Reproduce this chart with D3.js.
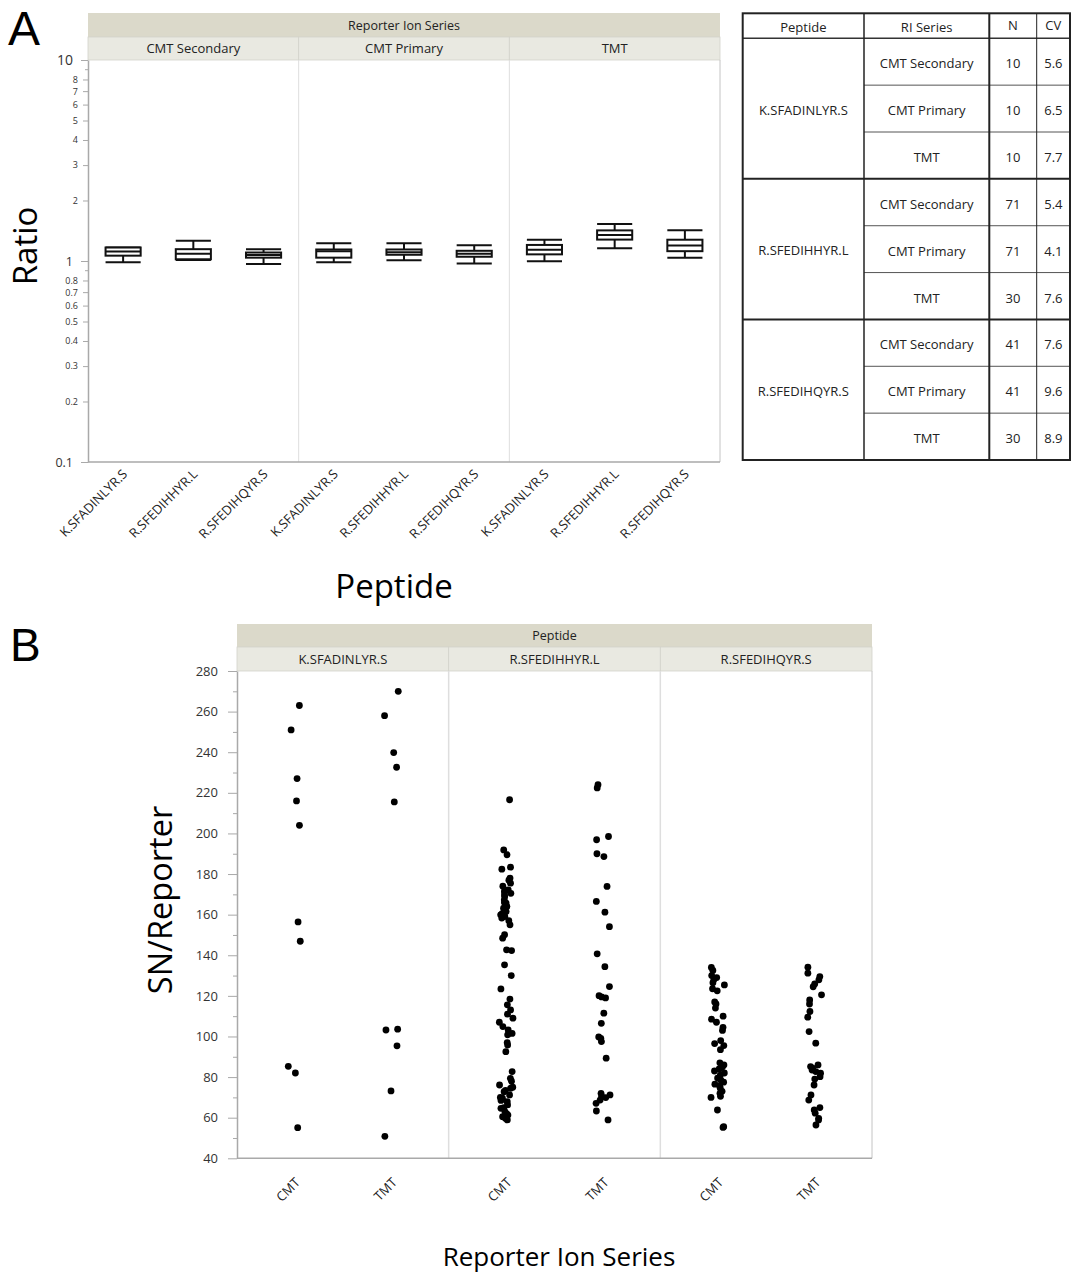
<!DOCTYPE html>
<html>
<head>
<meta charset="utf-8">
<script src="https://cdn.jsdelivr.net/npm/d3@7"></script>
<style>
    body { margin: 0; background: #fff; }
    svg { display: block; font-family: "Open Sans", sans-serif; }
</style>
</head>
<body>
<div id="chart"></div>
<script>
// ---- data ----
const riSeries = ["CMT Secondary", "CMT Primary", "TMT"];
const peptides = ["K.SFADINLYR.S", "R.SFEDIHHYR.L", "R.SFEDIHQYR.S"];

// box stats (ratio), ordered RI series first, then peptide
const boxLow    = [0.985, 1.012, 0.967, 0.985, 1.008, 0.971, 0.998, 1.158, 1.039];
const boxQ1     = [1.063, 1.020, 1.039, 1.039, 1.074, 1.050, 1.079, 1.278, 1.119];
const boxMedian = [1.115, 1.086, 1.070, 1.119, 1.107, 1.086, 1.137, 1.347, 1.193];
const boxQ3     = [1.167, 1.145, 1.102, 1.141, 1.141, 1.124, 1.202, 1.420, 1.276];
const boxHigh   = [1.167, 1.262, 1.145, 1.225, 1.225, 1.197, 1.276, 1.530, 1.423];

// log axis ticks
const ratioBigTicks = [0.1, 1, 10];
const ratioSmallTicks = [0.2, 0.3, 0.4, 0.5, 0.6, 0.7, 0.8, 2, 3, 4, 5, 6, 7, 8];
const ratioBlankTicks = [0.9, 9];

// summary table
const tableN  = [10, 10, 10, 71, 71, 30, 41, 41, 30];
const tableCV = ["5.6", "6.5", "7.7", "5.4", "4.1", "7.6", "7.6", "9.6", "8.9"];

// SN / reporter points
const snSeries = ["CMT", "TMT"];
const snKCmt = [263, 251, 227, 216, 204, 156.4, 146.9, 85.3, 82, 55.1];
const snKTmt = [270, 258, 239.8, 232.6, 215.5, 103.6, 103.2, 95.4, 73.2, 50.8];
const snHCmt = [216.6, 191.9, 189.5, 183.4, 182.4, 178, 177, 175.5, 174, 172.2, 171.4, 170.5, 169.8,
    168.9, 167.3, 166, 165.7, 164, 163.2, 162, 161.5, 160.5, 159.9, 159.1, 158.3, 157, 155, 150.1,
    148.4, 142.7, 142.3, 135.3, 130, 123.4, 118.4, 115.6, 113.1, 111, 109, 107, 104.9, 103.2,
    101.5, 100.8, 97, 95.8, 92.5, 82.7, 79.4, 78, 76.1, 75, 74.5, 73.5, 72.8, 71.2, 70, 69.6,
    68.5, 67.9, 66.3, 65, 64.6, 63, 62, 61.3, 60.5, 59.7, 58.9];
const snHTmt = [224, 222.4, 198.5, 196.9, 190, 188.6, 173.9, 166.5, 161.2, 154.1, 140.7, 134.4,
    124.6, 120.1, 119.5, 119, 111.5, 106.5, 99.8, 99.1, 97.5, 89.3, 72, 71.2, 70.5, 69.9, 68.7,
    67.1, 63.3, 58.9];
const snQCmt = [134, 132.5, 130, 129, 128, 126.5, 125.4, 123.5, 122.5, 117, 116, 114, 110, 108.5,
    107, 104.5, 103, 98, 96.5, 95.5, 93.5, 87, 86, 85, 84, 83, 82, 81, 79.5, 78.5, 77.5, 76.5,
    75.5, 74.5, 73, 72, 70.5, 70, 63.8, 55.6, 55.2];
const snQTmt = [134.1, 131.2, 129.5, 127.9, 125.9, 124.5, 120.5, 118, 116, 112.3, 109.5, 102.4,
    96.7, 86, 85.2, 84.4, 83.5, 82.7, 81.9, 80.2, 79, 76.1, 71.2, 68.7, 65, 63.8, 62.2, 59.7,
    58.9, 56.4];
const snTicks = [40, 60, 80, 100, 120, 140, 160, 180, 200, 220, 240, 260, 280];
const snMinorTicks = [50, 70, 90, 110, 130, 150, 170, 190, 210, 230, 250, 270];

const snValues = [[snKCmt, snKTmt], [snHCmt, snHTmt], [snQCmt, snQTmt]];

// ---- drawing ----
const W = 1071, H = 1273;
const stripDark = "#dbd9ca", stripLight = "#e9e9e1";
const frameGrey = "#a9a9a9", dividerGrey = "#dedede";

const svg = d3.select("#chart").append("svg")
    .attr("width", W)
    .attr("height", H);

// panel letters
svg.append("text").attr("x", 8).attr("y", 45)
    .attr("font-family", "Liberation Sans, sans-serif").attr("font-size", 48).text("A");
svg.append("text").attr("x", 10).attr("y", 661)
    .attr("font-family", "Liberation Sans, sans-serif").attr("font-size", 46).text("B");

// draws the grey facet strips on top of a plot
function drawStrips(g, title, facets, scale, left, right, top, mid, bottom) {
    g.append("rect")
        .attr("x", left).attr("y", top)
        .attr("width", right - left).attr("height", mid - top)
        .attr("fill", stripDark);
    g.append("text")
        .attr("x", (left + right) / 2).attr("y", mid - 7)
        .attr("text-anchor", "middle")
        .attr("font-size", 12.5)
        .attr("fill", "#222")
        .text(title);

    facets.forEach(f => {
        g.append("rect")
            .attr("x", scale(f)).attr("y", mid)
            .attr("width", scale.bandwidth()).attr("height", bottom - mid)
            .attr("fill", stripLight)
            .attr("stroke", "#d2d2ca")
            .attr("stroke-width", 0.8);
        g.append("text")
            .attr("x", scale(f) + scale.bandwidth() / 2).attr("y", bottom - 7)
            .attr("text-anchor", "middle")
            .attr("font-size", 13)
            .attr("fill", "#222")
            .text(f);
    });
}

// ---------- panel A: box plots ----------
const A = {left: 88, right: 720, top: 60, bottom: 462, stripTop: 13, stripMid: 37};

const xFacetA = d3.scaleBand().domain(riSeries).range([A.left, A.right]);
const xPepA = d3.scaleBand().domain(peptides).range([0, xFacetA.bandwidth()]);
const yA = d3.scaleLog().domain([0.1, 10]).range([A.bottom, A.top]);

const gA = svg.append("g");

drawStrips(gA, "Reporter Ion Series", riSeries, xFacetA, A.left, A.right, A.stripTop, A.stripMid, A.top);

// facet dividers and frame
riSeries.slice(1).forEach(s => {
    gA.append("line")
        .attr("x1", xFacetA(s)).attr("x2", xFacetA(s))
        .attr("y1", A.top).attr("y2", A.bottom)
        .attr("stroke", dividerGrey);
});
gA.append("line")
    .attr("x1", A.right).attr("x2", A.right)
    .attr("y1", A.top).attr("y2", A.bottom)
    .attr("stroke", "#c4c4c4");
gA.append("line")
    .attr("x1", A.left).attr("x2", A.right)
    .attr("y1", A.bottom).attr("y2", A.bottom)
    .attr("stroke", frameGrey).attr("stroke-width", 1.5);

// y axis (log)
const allRatioTicks = ratioBigTicks.concat(ratioSmallTicks, ratioBlankTicks);
const yAxisA = gA.append("g")
    .attr("transform", "translate(" + A.left + ",0)")
    .call(d3.axisLeft(yA)
        .tickValues(allRatioTicks)
        .tickFormat(d => ratioBlankTicks.includes(d) ? "" : d3.format("~g")(d))
        .tickSizeOuter(0));
yAxisA.select(".domain").attr("stroke", frameGrey).attr("stroke-width", 1.5);
yAxisA.selectAll(".tick line")
    .attr("stroke", frameGrey)
    .attr("x2", d => ratioBigTicks.includes(d) ? -7 : (ratioBlankTicks.includes(d) ? -3 : -5));
yAxisA.selectAll(".tick text")
    .attr("font-family", "Open Sans, sans-serif")
    .attr("fill", "#333")
    .attr("x", d => ratioBigTicks.includes(d) ? -15 : -10)
    .attr("font-size", d => d === 10 ? 14 : (ratioBigTicks.includes(d) ? 12.5 : 9));

// boxes
const boxData = [];
riSeries.forEach((s, i) => {
    peptides.forEach((p, j) => {
        let k = i * peptides.length + j;
        boxData.push({series: s, peptide: p, lo: boxLow[k], q1: boxQ1[k],
            med: boxMedian[k], q3: boxQ3[k], hi: boxHigh[k]});
    });
});

const boxW = xPepA.bandwidth() * 0.5;
const boxes = gA.selectAll(".box")
    .data(boxData)
    .enter()
    .append("g")
    .attr("class", "box")
    .attr("transform", d => "translate(" + (xFacetA(d.series) + xPepA(d.peptide) + xPepA.bandwidth() / 2) + ",0)")
    .attr("stroke", "#111")
    .attr("stroke-width", 2)
    .attr("fill", "none");

boxes.append("line")
    .attr("x1", 0).attr("x2", 0)
    .attr("y1", d => yA(d.hi)).attr("y2", d => yA(d.q3));
boxes.append("line")
    .attr("x1", 0).attr("x2", 0)
    .attr("y1", d => yA(d.q1)).attr("y2", d => yA(d.lo));
boxes.append("line")
    .attr("x1", -boxW / 2).attr("x2", boxW / 2)
    .attr("y1", d => yA(d.hi)).attr("y2", d => yA(d.hi));
boxes.append("line")
    .attr("x1", -boxW / 2).attr("x2", boxW / 2)
    .attr("y1", d => yA(d.lo)).attr("y2", d => yA(d.lo));
boxes.append("rect")
    .attr("x", -boxW / 2)
    .attr("y", d => yA(d.q3))
    .attr("width", boxW)
    .attr("height", d => yA(d.q1) - yA(d.q3))
    .attr("fill", "#fff");
boxes.append("line")
    .attr("x1", -boxW / 2).attr("x2", boxW / 2)
    .attr("y1", d => yA(d.med)).attr("y2", d => yA(d.med));

// x labels, rotated
riSeries.forEach(s => {
    gA.append("g")
        .attr("transform", "translate(" + xFacetA(s) + "," + A.bottom + ")")
        .call(d3.axisBottom(xPepA).tickSize(0).tickPadding(0))
        .call(g => g.select(".domain").remove())
        .selectAll(".tick text")
        .attr("font-family", "Open Sans, sans-serif")
        .attr("font-size", 13)
        .attr("fill", "#222")
        .attr("text-anchor", "end")
        .attr("dy", 0)
        .attr("y", 0)
        .attr("transform", "translate(5,13) rotate(-45)");
});

gA.append("text")
    .attr("x", 394).attr("y", 598)
    .attr("text-anchor", "middle")
    .attr("font-size", 33)
    .text("Peptide");
gA.append("text")
    .attr("transform", "translate(37,246) rotate(-90)")
    .attr("text-anchor", "middle")
    .attr("font-size", 33)
    .text("Ratio");

// ---------- summary table ----------
const T = {top: 13.3, headBottom: 38.3, bottom: 460, cols: [742.7, 864, 989.3, 1036.7, 1070]};
const rowScale = d3.scaleBand()
    .domain(d3.range(tableN.length))
    .range([T.headBottom, T.bottom]);
const gT = svg.append("g");

const headers = ["Peptide", "RI Series", "N", "CV"];
headers.forEach((h, i) => {
    gT.append("text")
        .attr("x", (T.cols[i] + T.cols[i + 1]) / 2)
        .attr("y", i < 2 ? 32 : 30)
        .attr("text-anchor", "middle")
        .attr("font-size", 13)
        .attr("fill", "#222")
        .text(h);
});

// inner row lines (series, N, CV columns)
d3.range(tableN.length).forEach(r => {
    if (r % 3 !== 0) {
        gT.append("line")
            .attr("x1", T.cols[1]).attr("x2", T.cols[4])
            .attr("y1", rowScale(r)).attr("y2", rowScale(r))
            .attr("stroke", "#555").attr("stroke-width", 1);
    }
    let cy = rowScale(r) + rowScale.bandwidth() / 2 + 6.5;
    gT.append("text")
        .attr("x", (T.cols[1] + T.cols[2]) / 2).attr("y", cy)
        .attr("text-anchor", "middle").attr("font-size", 13).attr("fill", "#222")
        .text(riSeries[r % 3]);
    gT.append("text")
        .attr("x", (T.cols[2] + T.cols[3]) / 2).attr("y", cy)
        .attr("text-anchor", "middle").attr("font-size", 13).attr("fill", "#222")
        .text(tableN[r]);
    gT.append("text")
        .attr("x", (T.cols[3] + T.cols[4]) / 2).attr("y", cy)
        .attr("text-anchor", "middle").attr("font-size", 13).attr("fill", "#222")
        .text(tableCV[r]);
});

// peptide group cells
peptides.forEach((p, i) => {
    let y0 = rowScale(i * 3), y1 = rowScale(i * 3 + 2) + rowScale.bandwidth();
    gT.append("text")
        .attr("x", (T.cols[0] + T.cols[1]) / 2).attr("y", (y0 + y1) / 2 + 6)
        .attr("text-anchor", "middle").attr("font-size", 13).attr("fill", "#222")
        .text(p);
    if (i > 0) {
        gT.append("line")
            .attr("x1", T.cols[0]).attr("x2", T.cols[4])
            .attr("y1", y0).attr("y2", y0)
            .attr("stroke", "#222").attr("stroke-width", 2);
    }
});

gT.append("line")
    .attr("x1", T.cols[0]).attr("x2", T.cols[4])
    .attr("y1", T.headBottom).attr("y2", T.headBottom)
    .attr("stroke", "#333").attr("stroke-width", 1.5);
[[1, 1.5], [2, 2], [3, 1]].forEach(([c, w]) => {
    gT.append("line")
        .attr("x1", T.cols[c]).attr("x2", T.cols[c])
        .attr("y1", T.top).attr("y2", T.bottom)
        .attr("stroke", "#222").attr("stroke-width", w);
});
gT.append("rect")
    .attr("x", T.cols[0]).attr("y", T.top)
    .attr("width", T.cols[4] - T.cols[0]).attr("height", T.bottom - T.top)
    .attr("fill", "none").attr("stroke", "#222").attr("stroke-width", 2);

// ---------- panel B: SN/Reporter dot strips ----------
const B = {left: 237, right: 872, top: 671, bottom: 1158.3, stripTop: 624, stripMid: 647};

const xFacetB = d3.scaleBand().domain(peptides).range([B.left, B.right]);
const xSeriesB = d3.scalePoint().domain(snSeries).range([0, xFacetB.bandwidth()]).padding(0.59);
const yB = d3.scaleLinear().domain([40, 280]).range([B.bottom, B.top]);

const gB = svg.append("g");

drawStrips(gB, "Peptide", peptides, xFacetB, B.left, B.right, B.stripTop, B.stripMid, B.top);

peptides.slice(1).forEach(p => {
    gB.append("line")
        .attr("x1", xFacetB(p)).attr("x2", xFacetB(p))
        .attr("y1", B.top).attr("y2", B.bottom)
        .attr("stroke", dividerGrey).attr("stroke-width", 1.5);
});
gB.append("line")
    .attr("x1", B.right).attr("x2", B.right)
    .attr("y1", B.top).attr("y2", B.bottom)
    .attr("stroke", "#c4c4c4");
gB.append("line")
    .attr("x1", B.left).attr("x2", B.right)
    .attr("y1", B.bottom).attr("y2", B.bottom)
    .attr("stroke", frameGrey).attr("stroke-width", 1.5);

// y axis
const yAxisB = gB.append("g")
    .attr("transform", "translate(" + B.left + ",0)")
    .call(d3.axisLeft(yB).tickValues(snTicks).tickSize(9).tickSizeOuter(0));
yAxisB.select(".domain").attr("stroke", frameGrey).attr("stroke-width", 1.5);
yAxisB.selectAll(".tick line").attr("stroke", frameGrey);
yAxisB.selectAll(".tick text")
    .attr("font-family", "Open Sans, sans-serif")
    .attr("font-size", 13)
    .attr("fill", "#333")
    .attr("x", -19);
gB.append("g")
    .attr("transform", "translate(" + B.left + ",0)")
    .call(d3.axisLeft(yB).tickValues(snMinorTicks).tickSize(4).tickFormat(""))
    .call(g => g.select(".domain").remove())
    .selectAll(".tick line").attr("stroke", frameGrey);

// points with a small seeded jitter, like JMP's jitter option
const jitter = d3.randomUniform.source(d3.randomLcg(0.4271))(-7, 7);
const pointData = [];
peptides.forEach((p, i) => {
    snSeries.forEach((s, j) => {
        snValues[i][j].forEach(v => {
            pointData.push({peptide: p, series: s, value: v, dx: jitter()});
        });
    });
});

gB.selectAll(".dot")
    .data(pointData)
    .enter()
    .append("circle")
    .attr("class", "dot")
    .attr("cx", d => xFacetB(d.peptide) + xSeriesB(d.series) + d.dx)
    .attr("cy", d => yB(d.value))
    .attr("r", 3.4)
    .attr("fill", "#000");

// x labels
peptides.forEach(p => {
    gB.append("g")
        .attr("transform", "translate(" + xFacetB(p) + "," + B.bottom + ")")
        .call(d3.axisBottom(xSeriesB).tickSize(0).tickPadding(0))
        .call(g => g.select(".domain").remove())
        .selectAll(".tick text")
        .attr("font-family", "Open Sans, sans-serif")
        .attr("font-size", 13)
        .attr("fill", "#222")
        .attr("text-anchor", "end")
        .attr("dy", 0)
        .attr("y", 0)
        .attr("transform", "translate(6,25) rotate(-45)");
});

gB.append("text")
    .attr("x", 559).attr("y", 1266)
    .attr("text-anchor", "middle")
    .attr("font-size", 26)
    .text("Reporter Ion Series");
gB.append("text")
    .attr("transform", "translate(172,900) rotate(-90)")
    .attr("text-anchor", "middle")
    .attr("font-size", 32.5)
    .text("SN/Reporter");
</script>
</body>
</html>
